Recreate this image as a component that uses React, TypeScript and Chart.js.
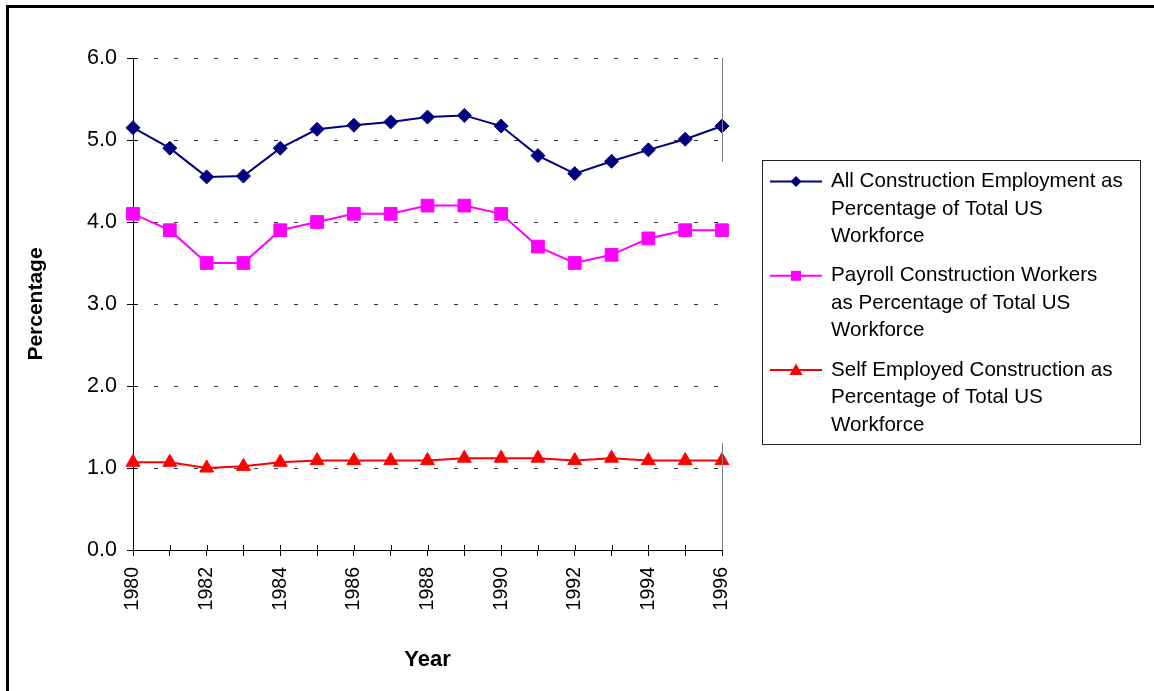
import React, { useEffect, useRef } from "react";
import { Chart, registerables } from "chart.js";

Chart.register(...registerables);

const years = ["1980","1981","1982","1983","1984","1985","1986","1987","1988","1989","1990","1991","1992","1993","1994","1995","1996"];
const allConstruction = [5.15, 4.90, 4.55, 4.56, 4.90, 5.13, 5.18, 5.22, 5.28, 5.30, 5.17, 4.81, 4.59, 4.74, 4.88, 5.01, 5.17];
const payrollWorkers = [4.1, 3.9, 3.5, 3.5, 3.9, 4.0, 4.1, 4.1, 4.2, 4.2, 4.1, 3.7, 3.5, 3.6, 3.8, 3.9, 3.9];
const selfEmployed = [1.07, 1.07, 1.00, 1.02, 1.07, 1.09, 1.09, 1.09, 1.09, 1.12, 1.12, 1.12, 1.09, 1.12, 1.09, 1.09, 1.09];

const seriesNames = [
  "All Construction Employment as Percentage of Total US Workforce",
  "Payroll Construction Workers as Percentage of Total US Workforce",
  "Self Employed Construction as Percentage of Total US Workforce",
];
const legendLines = [
  ["All Construction Employment as", "Percentage of Total US", "Workforce"],
  ["Payroll Construction Workers", "as Percentage of Total US", "Workforce"],
  ["Self Employed Construction as", "Percentage of Total US", "Workforce"],
];
const yTickValues = [0, 1, 2, 3, 4, 5, 6];

const FONT = "'Liberation Sans', Arial, sans-serif";

const decorPlugin = {
  id: "decor",
  afterDraw(chart: any) {
    const ctx = chart.ctx;
    const area = chart.chartArea;
    const xs = chart.scales.x;
    const ys = chart.scales.y;
    ctx.save();
    // outer frame
    ctx.fillStyle = "#000";
    ctx.fillRect(6, 5, 3, 700);
    ctx.fillRect(6, 5, 1200, 3);
    // inner tick parts
    ctx.strokeStyle = "#000";
    ctx.lineWidth = 1;
    ctx.beginPath();
    for (let i = 0; i < xs.ticks.length; i++) {
      const px = Math.round(xs.getPixelForTick(i)) + 0.5;
      ctx.moveTo(px, area.bottom - 5);
      ctx.lineTo(px, area.bottom);
    }
    for (let i = 0; i < ys.ticks.length; i++) {
      const py = Math.round(ys.getPixelForTick(i)) + 0.5;
      ctx.moveTo(area.left, py);
      ctx.lineTo(area.left + 4, py);
    }
    ctx.stroke();
    // right plot border segments (gray)
    ctx.strokeStyle = "#808080";
    ctx.beginPath();
    const rx = Math.round(area.right) + 0.5;
    ctx.moveTo(rx, area.top);
    ctx.lineTo(rx, 162);
    ctx.moveTo(rx, 443);
    ctx.lineTo(rx, area.bottom);
    ctx.stroke();

    // legend
    const bx = 762.5, by = 160.5, bw = 378, bh = 284;
    ctx.strokeStyle = "#222";
    ctx.lineWidth = 1;
    ctx.strokeRect(bx, by, bw, bh);
    ctx.font = `20.6px ${FONT}`;
    ctx.textBaseline = "middle";
    ctx.textAlign = "left";
    const datasets = chart.data.datasets;
    for (let i = 0; i < datasets.length; i++) {
      const ds = datasets[i];
      const cy = 181.5 + i * 94.3;
      ctx.strokeStyle = ds.borderColor;
      ctx.lineWidth = 2;
      ctx.beginPath();
      ctx.moveTo(770, cy);
      ctx.lineTo(822, cy);
      ctx.stroke();
      ctx.fillStyle = ds.backgroundColor;
      ctx.beginPath();
      const mx = 796;
      if (ds.pointStyle === "rectRot") {
        const r = 5.5;
        ctx.moveTo(mx, cy - r);
        ctx.lineTo(mx + r, cy);
        ctx.lineTo(mx, cy + r);
        ctx.lineTo(mx - r, cy);
        ctx.closePath();
      } else if (ds.pointStyle === "rect") {
        ctx.rect(mx - 5, cy - 5, 10, 10);
      } else {
        ctx.moveTo(mx, cy - 6.5);
        ctx.lineTo(mx + 6.5, cy + 5);
        ctx.lineTo(mx - 6.5, cy + 5);
        ctx.closePath();
      }
      ctx.fill();
      ctx.fillStyle = "#000";
      const lines = legendLines[i];
      for (let j = 0; j < lines.length; j++) {
        ctx.fillText(lines[j], 831, cy + j * 27.4);
      }
    }
    ctx.restore();
  },
};

export default function App() {
  const canvasRef = useRef<HTMLCanvasElement | null>(null);

  useEffect(() => {
    const canvas = canvasRef.current;
    if (!canvas) return;
    const chart = new Chart(canvas, {
      type: "line",
      data: {
        labels: years,
        datasets: [
          {
            label: seriesNames[0],
            data: allConstruction,
            borderColor: "#000080",
            backgroundColor: "#000080",
            pointBackgroundColor: "#000080",
            pointBorderColor: "#000080",
            pointStyle: "rectRot",
            pointRadius: 7,
            pointBorderWidth: 1,
            borderWidth: 2,
            tension: 0,
            clip: false,
          },
          {
            label: seriesNames[1],
            data: payrollWorkers,
            borderColor: "#FF00FF",
            backgroundColor: "#FF00FF",
            pointBackgroundColor: "#FF00FF",
            pointBorderColor: "#FF00FF",
            pointStyle: "rect",
            pointRadius: 9,
            pointBorderWidth: 1,
            borderWidth: 2,
            tension: 0,
            clip: false,
          },
          {
            label: seriesNames[2],
            data: selfEmployed,
            borderColor: "#FF0000",
            backgroundColor: "#FF0000",
            pointBackgroundColor: "#FF0000",
            pointBorderColor: "#FF0000",
            pointStyle: "triangle",
            pointRadius: 8,
            pointBorderWidth: 1,
            borderWidth: 2,
            tension: 0,
            clip: false,
          },
        ],
      } as any,
      options: {
        responsive: false,
        animation: false,
        events: [],
        layout: { padding: { left: 0, top: 58, right: 432, bottom: 0 } },
        plugins: {
          legend: { display: false },
          tooltip: { enabled: false },
          title: { display: false },
        },
        scales: {
          x: {
            type: "category",
            offset: false,
            afterFit: (scale: any) => {
              scale.height = 141;
            },
            grid: {
              display: true,
              drawOnChartArea: false,
              drawTicks: true,
              tickLength: 6,
              tickColor: "#000",
            },
            border: { display: true, color: "#000", width: 1 },
            ticks: {
              autoSkip: false,
              maxRotation: 90,
              minRotation: 90,
              padding: 11,
              color: "#000",
              font: { family: FONT, size: 19.5 },
              callback: (_v: any, i: number) => (i % 2 === 0 ? years[i] : ""),
            },
            title: {
              display: true,
              text: "Year",
              color: "#000",
              font: { family: FONT, size: 22, weight: "bold" },
              padding: { top: 0, bottom: 18 },
            },
          },
          y: {
            type: "linear",
            min: 0,
            max: 6,
            afterFit: (scale: any) => {
              scale.width = 133;
            },
            afterBuildTicks: (scale: any) => {
              scale.ticks = yTickValues.map((v) => ({ value: v }));
            },
            grid: {
              display: true,
              drawOnChartArea: true,
              drawTicks: true,
              tickLength: 6,
              color: "#3a3a3a",
              tickColor: "#000",
              tickBorderDash: [],
              lineWidth: 1,
            } as any,
            border: { display: true, color: "#000", width: 1, dash: [4, 16] } as any,
            ticks: {
              padding: 10,
              color: "#000",
              font: { family: FONT, size: 21.5 },
              callback: (v: any) => Number(v).toFixed(1),
            },
            title: {
              display: true,
              text: "Percentage",
              color: "#000",
              font: { family: FONT, size: 21, weight: "bold" },
              padding: { top: 24, bottom: 0 },
            },
          },
        },
      } as any,
      plugins: [decorPlugin],
    });
    return () => chart.destroy();
  }, []);

  return (
    <div
      style={{
        position: "absolute",
        left: 0,
        top: 0,
        width: 1154,
        height: 691,
        background: "#fff",
      }}
    >
      <canvas ref={canvasRef} width={1154} height={691} style={{ display: "block" }} />
    </div>
  );
}
